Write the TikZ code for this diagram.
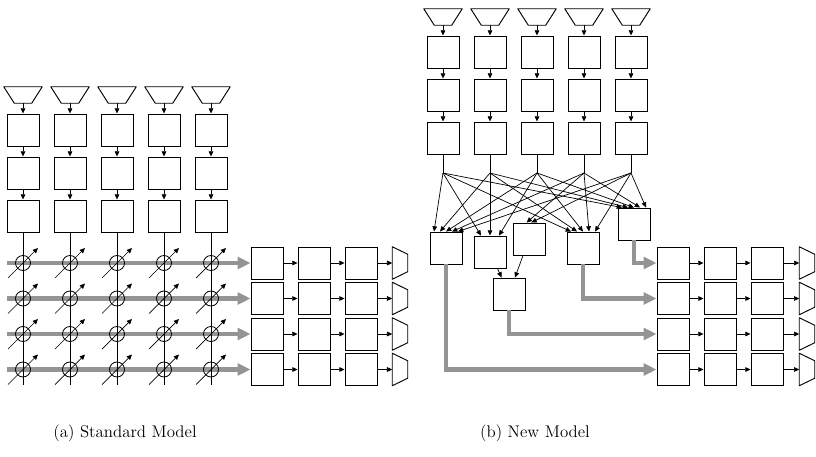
\documentclass[tikz,border=0pt]{standalone}
\usepackage{tikz}
\usetikzlibrary{arrows.meta}

\begin{document}
\begin{tikzpicture}[x=0.03cm, y=-0.03cm,
    blk/.style={draw, line width=0.8pt, minimum size=0.96cm, inner sep=0pt},
    src/.style={minimum width=1.14cm, minimum height=0.48cm, inner sep=0pt},
    snk/.style={minimum width=0.45cm, minimum height=0.96cm, inner sep=0pt},
    edge/.style={line width=0.8pt, line join=round},
    wire/.style={line width=0.6pt, -{Triangle[length=4.5pt,width=4pt]}},
    flow/.style={line width=3.5pt, black!42, -{Triangle[length=11pt,width=10pt]}},
    knob/.style={draw, circle, line width=0.7pt, minimum size=0.45cm, inner sep=0pt}]

        \useasboundingbox (0,0) rectangle (816,457);

        % Define Variables
        \def\srcin{0.315cm}
        \def\snkin{0.225cm}
        \def\spread{0.18cm}

        % (a) Standard Model
        % Input columns
        \foreach \i/\x in {1/23,2/70,3/117,4/164,5/211} {
            \node[src] (a-in\i) at (\x,95) {};
            \draw[edge] (a-in\i.north west) -- (a-in\i.north east)
                -- ([xshift=-\srcin]a-in\i.south east) -- ([xshift=\srcin]a-in\i.south west) -- cycle;
            \node[blk] (a-b\i1) at (\x,130) {};
            \node[blk] (a-b\i2) at (\x,173) {};
            \node[blk] (a-b\i3) at (\x,216) {};
            \coordinate (a-end\i) at (\x,385);
            \draw[wire] (a-in\i) -- (a-b\i1);
            \draw[wire] (a-b\i1) -- (a-b\i2);
            \draw[wire] (a-b\i2) -- (a-b\i3);
        }

        % Output rows
        \foreach \j/\y in {1/263,2/298.5,3/334,4/369.5} {
            \coordinate (a-start\j) at (7,\y);
            \node[blk] (a-r\j1) at (267,\y) {};
            \node[blk] (a-r\j2) at (314,\y) {};
            \node[blk] (a-r\j3) at (361,\y) {};
            \node[snk] (a-out\j) at (400,\y) {};
            \draw[edge] (a-out\j.north west) -- ([yshift=-\snkin]a-out\j.north east)
                -- ([yshift=\snkin]a-out\j.south east) -- (a-out\j.south west) -- cycle;
            \draw[flow] (a-start\j) -- (a-r\j1);
            \draw[wire] (a-r\j1) -- (a-r\j2);
            \draw[wire] (a-r\j2) -- (a-r\j3);
            \draw[wire] (a-r\j3) -- (a-out\j);
        }

        % Crossbar with tunable weights
        \foreach \i/\x in {1/23,2/70,3/117,4/164,5/211} {
            \draw[line width=0.6pt] (a-b\i3) -- (a-end\i);
            \foreach \j/\y in {1/263,2/298.5,3/334,4/369.5} {
                \node[knob] (a-w\i\j) at (\x,\y) {};
                \draw[wire] ([shift={(-15,15)}]a-w\i\j.center) -- ([shift={(15,-15)}]a-w\i\j.center);
            }
        }

        % (b) New Model
        % Input columns
        \foreach \i/\x in {1/443,2/490,3/537,4/584,5/631} {
            \node[src] (b-in\i) at (\x,17) {};
            \draw[edge] (b-in\i.north west) -- (b-in\i.north east)
                -- ([xshift=-\srcin]b-in\i.south east) -- ([xshift=\srcin]b-in\i.south west) -- cycle;
            \node[blk] (b-b\i1) at (\x,52) {};
            \node[blk] (b-b\i2) at (\x,95) {};
            \node[blk] (b-b\i3) at (\x,138) {};
            \coordinate (b-j\i) at (\x,173);
            \draw[wire] (b-in\i) -- (b-b\i1);
            \draw[wire] (b-b\i1) -- (b-b\i2);
            \draw[wire] (b-b\i2) -- (b-b\i3);
            \draw[line width=0.6pt] (b-b\i3) -- (b-j\i);
        }

        % Middle layer
        \node[blk] (b-ma) at (446,248) {};
        \node[blk] (b-mb) at (490,252) {};
        \node[blk] (b-mc) at (529,239) {};
        \node[blk] (b-md) at (583,248) {};
        \node[blk] (b-me) at (634,224) {};
        \node[blk] (b-mf) at (509,294) {};

        % Full fan-out to a, d, e; partial to b and c
        \foreach \i in {1,...,5} {
            \foreach \t in {ma,md,me}
                \draw[wire] (b-j\i) -- ([xshift={(\i-3)*\spread}]b-\t.north);
        }
        \foreach \i in {1,2,3}
            \draw[wire] (b-j\i) -- ([xshift={(\i-2)*1.5*\spread}]b-mb.north);
        \foreach \i in {4,5}
            \draw[wire] (b-j\i) -- ([xshift={(\i-4.5)*0.8*\spread}]b-mc.north);
        \draw[wire] (b-mb) -- (b-mf);
        \draw[wire] (b-mc) -- (b-mf);

        % Output rows
        \foreach \j/\y in {1/263,2/298.5,3/334,4/369.5} {
            \node[blk] (b-r\j1) at (673,\y) {};
            \node[blk] (b-r\j2) at (720,\y) {};
            \node[blk] (b-r\j3) at (767,\y) {};
            \node[snk] (b-out\j) at (807,\y) {};
            \draw[edge] (b-out\j.north west) -- ([yshift=-\snkin]b-out\j.north east)
                -- ([yshift=\snkin]b-out\j.south east) -- (b-out\j.south west) -- cycle;
            \draw[wire] (b-r\j1) -- (b-r\j2);
            \draw[wire] (b-r\j2) -- (b-r\j3);
            \draw[wire] (b-r\j3) -- (b-out\j);
        }
        \draw[flow] (b-me) |- (b-r11);
        \draw[flow] (b-md) |- (b-r21);
        \draw[flow] (b-mf) |- (b-r31);
        \draw[flow] (b-ma) |- (b-r41);

        % Captions
        \node[font=\Large] (cap-a) at (125,433) {(a) Standard Model};
        \node[font=\Large] (cap-b) at (535,433) {(b) New Model};

    \end{tikzpicture}
\end{document}
